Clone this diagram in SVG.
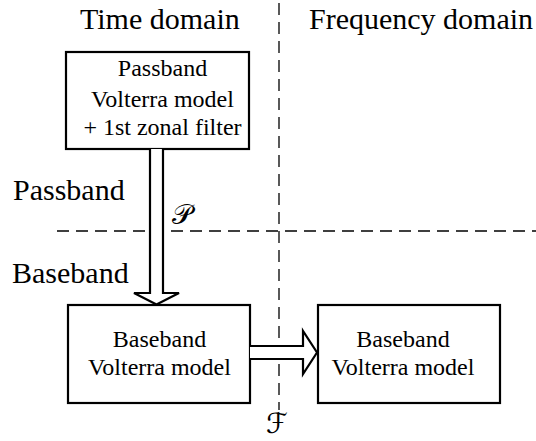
<svg xmlns="http://www.w3.org/2000/svg" width="536" height="441" viewBox="0 0 536 441">
<style>
.box{fill:#fff;stroke:#000;stroke-width:2.2}
.arr{fill:#fff;stroke:#000;stroke-width:2.2;stroke-linejoin:miter}
.dash{fill:none;stroke:#000;stroke-width:1.3;stroke-dasharray:12 7}
text{font-family:'Liberation Serif','Times New Roman',serif;fill:#000}
.hd{font-size:30px}
.bx{font-size:24px;text-anchor:middle}
text.sc{font-family:'DejaVu Sans','Noto Sans',sans-serif;font-size:28px}
</style>
<rect width="536" height="441" fill="#fff"/>
<g id="dividers">
<line class="dash" x1="279" y1="3" x2="279" y2="410"/>
<line class="dash" x1="57" y1="231" x2="536" y2="231"/>
</g>
<g id="labels">
<text class="hd" x="80" y="29">Time domain</text>
<text class="hd" x="309" y="29">Frequency domain</text>
<text class="hd" x="13" y="200">Passband</text>
<text class="hd" x="12" y="283">Baseband</text>
</g>
<g id="node-passband">
<rect class="box" x="66" y="52" width="183" height="97"/>
<text class="bx" x="162.5" y="76">Passband</text>
<text class="bx" x="162.5" y="107">Volterra model</text>
<text class="bx" x="162.5" y="135">+ 1st zonal filter</text>
</g>
<g id="node-baseband-time">
<rect class="box" x="68" y="305" width="182" height="98"/>
<text class="bx" x="159.5" y="347">Baseband</text>
<text class="bx" x="159.5" y="375">Volterra model</text>
</g>
<g id="node-baseband-freq">
<rect class="box" x="318" y="305" width="182" height="98"/>
<text class="bx" x="403" y="347">Baseband</text>
<text class="bx" x="403" y="375">Volterra model</text>
</g>
<g id="connectors">
<path class="arr" d="M150,149 V293 H134 L156.5,304.5 L179,293 H163 V149"/>
<path class="arr" d="M250,346 H303 V331 L317,352.5 L303,374 V359 H250"/>
<text class="sc" x="172" y="224">𝒫</text>
<text class="sc" x="266" y="433">ℱ</text>
</g>
</svg>
